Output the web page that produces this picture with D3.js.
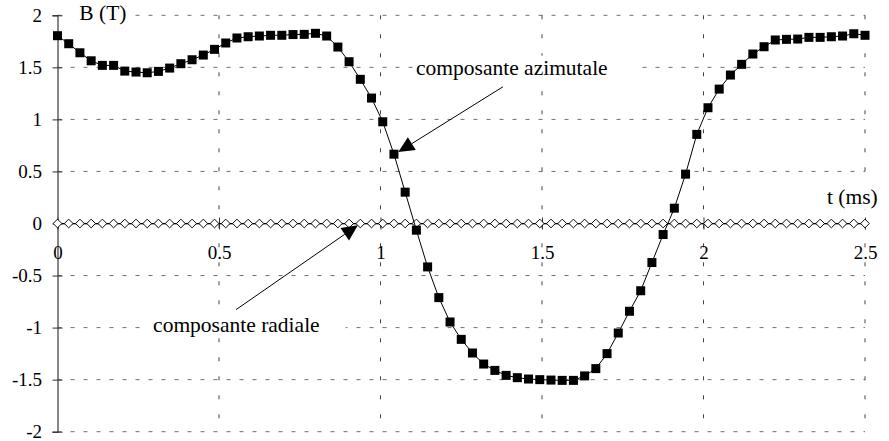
<!DOCTYPE html>
<html>
<head>
<meta charset="utf-8">
<script src="https://cdn.jsdelivr.net/npm/d3@7"></script>
<style>
  html, body { margin: 0; padding: 0; background: #fff; }
  svg { display: block; }
  text { font-family: "Liberation Serif", "Times New Roman", serif; fill: #000; }
</style>
</head>
<body>
<svg id="chart" width="889" height="441"></svg>
<script>
// Sampling step of the magnetic-field record (ms)
const dt = 2.5 / 72;

// Azimuthal component of B (T), one value per sample
const bAzimutal = [
  1.804, 1.727, 1.640, 1.563, 1.519, 1.519, 1.464, 1.455, 1.448, 1.461,
  1.493, 1.535, 1.573, 1.618, 1.673, 1.734, 1.782, 1.794, 1.801, 1.808,
  1.808, 1.815, 1.817, 1.827, 1.801, 1.695, 1.554, 1.385, 1.205, 0.977,
  0.666, 0.301, -0.064, -0.417, -0.712, -0.946, -1.113, -1.244, -1.350, -1.411,
  -1.459, -1.481, -1.494, -1.500, -1.504, -1.507, -1.507, -1.464, -1.394, -1.250,
  -1.052, -0.843, -0.646, -0.375, -0.106, 0.147, 0.474, 0.856, 1.112, 1.291,
  1.426, 1.529, 1.628, 1.698, 1.763, 1.769, 1.772, 1.788, 1.788, 1.794,
  1.801, 1.823, 1.808
];

// Radial component of B (T), one value per sample
const bRadial = [
  0, 0, 0, 0, 0, 0, 0, 0, 0, 0,
  0, 0, 0, 0, 0, 0, 0, 0, 0, 0,
  0, 0, 0, 0, 0, 0, 0, 0, 0, 0,
  0, 0, 0, 0, 0, 0, 0, 0, 0, 0,
  0, 0, 0, 0, 0, 0, 0, 0, 0, 0,
  0, 0, 0, 0, 0, 0, 0, 0, 0, 0,
  0, 0, 0, 0, 0, 0, 0, 0, 0, 0,
  0, 0, 0
];

// Axis ticks and their labels
const xTicks = [0, 0.5, 1, 1.5, 2, 2.5];
const xTickLabels = ["0", "0.5", "1", "1.5", "2", "2.5"];
const yTicks = [2, 1.5, 1, 0.5, 0, -0.5, -1, -1.5, -2];
const yTickLabels = ["2", "1.5", "1", "0.5", "0", "-0.5", "-1", "-1.5", "-2"];

// Callouts (data units): label anchor, arrow tail and arrow tip
const callouts = [
  { text: "composante azimutale", lx: 1.110, ly: 1.43, tail: [1.379, 1.313], tip: [1.055, 0.686], padL: 3, padR: 32 },
  { text: "composante radiale",   lx: 0.296, ly: -1.04, tail: [0.553, -0.827], tip: [0.930, -0.016], padL: 11, padR: 26 }
];

const svg = d3.select("#chart");

const x = d3.scaleLinear().domain([0, 2.5]).range([57.5, 865]);
const y = d3.scaleLinear().domain([-2, 2]).range([431.7, 15.3]);

const gridColor = "#6f6f6f";

// Dashed grid
const grid = svg.append("g");
grid.selectAll("line.h")
  .data(yTicks.filter(d => d !== 0))
  .join("line")
  .attr("x1", x(0)).attr("x2", x(2.5))
  .attr("y1", d => y(d)).attr("y2", d => y(d))
  .attr("stroke", gridColor).attr("stroke-width", 1)
  .attr("stroke-dasharray", "4,9");
grid.selectAll("line.v")
  .data(xTicks.filter(d => d !== 0))
  .join("line")
  .attr("x1", d => x(d)).attr("x2", d => x(d))
  .attr("y1", y(2)).attr("y2", y(-2))
  .attr("stroke", "#444").attr("stroke-width", 1)
  .attr("stroke-dasharray", "4,15");

// Y axis on t = 0, ticks crossing the line
const yAxis = svg.append("g")
  .attr("transform", `translate(${x(0)},0)`)
  .call(d3.axisLeft(y).tickValues(yTicks).tickSize(5).tickPadding(10.5)
    .tickFormat((d, i) => yTickLabels[i]));
yAxis.select(".domain").attr("stroke", "#555").attr("stroke-width", 1.4);
yAxis.selectAll(".tick line").attr("x1", -5).attr("x2", 5).attr("stroke", "#333");
yAxis.selectAll(".tick text")
  .attr("font-family", "Liberation Serif").attr("font-size", 19)
  .attr("dy", null).attr("y", 5.8);

// X axis on B = 0
const xAxis = svg.append("g")
  .attr("transform", `translate(0,${y(0)})`)
  .call(d3.axisBottom(x).tickValues(xTicks).tickSize(6)
    .tickFormat((d, i) => xTickLabels[i]));
xAxis.select(".domain").attr("stroke", "#555").attr("stroke-width", 1);
xAxis.selectAll(".tick line").attr("y1", -6).attr("y2", 6).attr("stroke", "#333");
xAxis.selectAll(".tick text")
  .attr("font-family", "Liberation Serif").attr("font-size", 19)
  .attr("dy", null).attr("y", 35);

// Text with a white box behind it (hides the grid underneath)
function boxedText(parent, tx, ty, str, size, padL, padR) {
  const g = parent.append("g");
  const rect = g.append("rect").attr("fill", "#fff");
  const t = g.append("text").attr("x", tx).attr("y", ty)
    .attr("font-size", size).text(str);
  const bb = t.node().getBBox();
  rect.attr("x", bb.x - padL).attr("y", bb.y)
    .attr("width", bb.width + padL + padR).attr("height", bb.height);
  return g;
}

// Axis titles
boxedText(svg, 79.3, 20, "B (T)", 21.5, 16, 8);
boxedText(svg, 827, 204, "t (ms)", 21.5, 0, 0);

// Radial component: white diamonds on a line along zero
const idx = d3.range(bRadial.length);
const line = d3.line().x(d => x(d[0])).y(d => y(d[1]));

svg.append("path")
  .datum(idx.map(i => [i * dt, bRadial[i]]))
  .attr("d", line).attr("fill", "none")
  .attr("stroke", "#000").attr("stroke-width", 1);

const diamond = d3.symbol().type(d3.symbolSquare).size(38);
svg.append("g").selectAll("path")
  .data(idx)
  .join("path")
  .attr("d", diamond)
  .attr("transform", i => `translate(${x(i * dt)},${y(bRadial[i])}) rotate(45)`)
  .attr("fill", "#fff").attr("stroke", "#000").attr("stroke-width", 0.9);

// Azimuthal component: black squares joined by a line
const idxA = d3.range(bAzimutal.length);
svg.append("path")
  .datum(idxA.map(i => [i * dt, bAzimutal[i]]))
  .attr("d", line).attr("fill", "none")
  .attr("stroke", "#000").attr("stroke-width", 1);

const sq = 9;
svg.append("g").selectAll("rect")
  .data(idxA)
  .join("rect")
  .attr("x", i => x(i * dt) - sq / 2)
  .attr("y", i => y(bAzimutal[i]) - sq / 2)
  .attr("width", sq).attr("height", sq)
  .attr("fill", "#000");

// Callout labels and arrows
const ann = svg.append("g");
callouts.forEach(c => {
  boxedText(ann, x(c.lx), y(c.ly), c.text, 21.5, c.padL, c.padR);
  const x0 = x(c.tail[0]), y0 = y(c.tail[1]);
  const x1 = x(c.tip[0]), y1 = y(c.tip[1]);
  const ang = Math.atan2(y1 - y0, x1 - x0);
  const len = 16, hw = 7.5;
  const bx = x1 - len * Math.cos(ang), by = y1 - len * Math.sin(ang);
  ann.append("line")
    .attr("x1", x0).attr("y1", y0).attr("x2", bx).attr("y2", by)
    .attr("stroke", "#000").attr("stroke-width", 1);
  const px = -Math.sin(ang), py = Math.cos(ang);
  ann.append("path")
    .attr("d", d3.line()([[x1, y1], [bx + hw * px, by + hw * py], [bx - hw * px, by - hw * py]]) + "Z")
    .attr("fill", "#000");
});
</script>
</body>
</html>
